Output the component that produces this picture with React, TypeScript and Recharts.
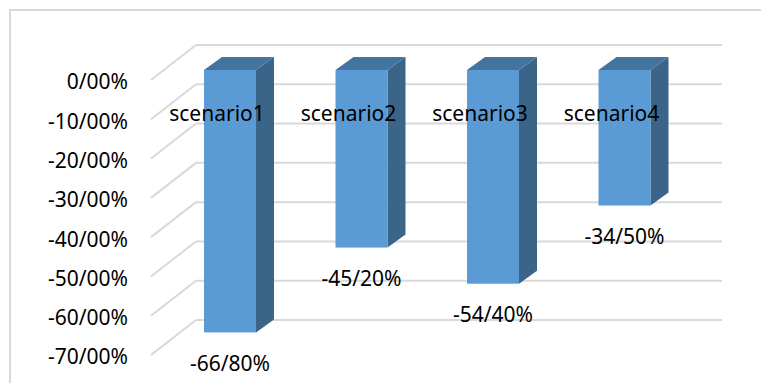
import React from "react";
import { BarChart, Bar, XAxis, YAxis, CartesianGrid, LabelList } from "recharts";

// Scenario names and their percentage change
const categories = ["scenario1", "scenario2", "scenario3", "scenario4"];
const changes = [-66.8, -45.2, -54.4, -34.5];
const yTicks = [-70, -60, -50, -40, -30, -20, -10, 0];

const data = categories.map((name, i) => ({ name, value: changes[i] }));

const FONT = "'Noto Sans', 'Open Sans', sans-serif";
const FONT_SIZE = 21;
const GRID = "#D9D9D9";

// Offsets of the back wall and the front floor edge relative to the bar plane
const BACK = { dx: 32, dy: -25 };
const FRONT = { dx: -13, dy: 10 };
// Bar depth
const DEPTH = { dx: 18, dy: -13 };

// Values like -66.8 are written as "-66/80%"
const fmt = (v: number) => `${v.toFixed(2).replace(".", "/")}%`;

const GridLine = (props: any) => {
  const { x1, x2, y1 } = props;
  return (
    <g key={props.key}>
      <line
        x1={x1 + FRONT.dx}
        y1={y1 + FRONT.dy}
        x2={x1 + BACK.dx}
        y2={y1 + BACK.dy}
        stroke={GRID}
        strokeWidth={2}
      />
      <line
        x1={x1 + BACK.dx}
        y1={y1 + BACK.dy}
        x2={x2 + BACK.dx}
        y2={y1 + BACK.dy}
        stroke={GRID}
        strokeWidth={2}
      />
    </g>
  );
};

const Bar3D = (props: any) => {
  const { x, y, width, height } = props;
  const top = Math.min(y, y + height);
  const bottom = Math.max(y, y + height);
  const right = x + width;
  return (
    <g>
      <polygon
        points={`${right},${top} ${right + DEPTH.dx},${top + DEPTH.dy} ${right + DEPTH.dx},${bottom + DEPTH.dy} ${right},${bottom}`}
        fill="#3A6488"
      />
      <polygon
        points={`${x},${top} ${x + DEPTH.dx},${top + DEPTH.dy} ${right + DEPTH.dx},${top + DEPTH.dy} ${right},${top}`}
        fill="#43739F"
      />
      <rect x={x} y={top} width={width} height={bottom - top} fill="#5B9BD5" />
    </g>
  );
};

const YTick = (props: any) => {
  const { x, y, payload } = props;
  return (
    <text
      x={x}
      y={y + FRONT.dy + 2}
      dy="0.355em"
      textAnchor="end"
      fontFamily={FONT}
      fontSize={FONT_SIZE}
      fill="#000"
    >
      {fmt(payload.value)}
    </text>
  );
};

const NameLabel = (props: any) => {
  const { x, y, width, height, value } = props;
  const top = Math.min(y, y + height);
  return (
    <text
      x={x + width / 2 + FRONT.dx}
      y={top + 44}
      dy="0.355em"
      textAnchor="middle"
      fontFamily={FONT}
      fontSize={FONT_SIZE}
      fill="#000"
    >
      {value}
    </text>
  );
};

const ValueLabel = (props: any) => {
  const { x, y, width, height, value } = props;
  const bottom = Math.max(y, y + height);
  return (
    <text
      x={x + width / 2}
      y={bottom + 31}
      dy="0.355em"
      textAnchor="middle"
      fontFamily={FONT}
      fontSize={FONT_SIZE}
      fill="#000"
    >
      {fmt(value)}
    </text>
  );
};

export default function App() {
  return (
    <div
      style={{
        position: "absolute",
        left: 0,
        top: 0,
        width: 761,
        height: 383,
        overflow: "hidden",
        background: "#fff",
      }}
    >
      <div
        style={{
          position: "absolute",
          left: 9,
          top: 9,
          width: 800,
          height: 420,
          border: `2px solid ${GRID}`,
          boxSizing: "border-box",
        }}
      />
      <div style={{ position: "absolute", left: 0, top: 0 }}>
        <BarChart
          width={761}
          height={383}
          data={data}
          margin={{ top: 70, right: 71, bottom: 38, left: 0 }}
        >
          <CartesianGrid vertical={false} horizontal={GridLine} />
          <XAxis dataKey="name" hide />
          <YAxis
            width={164}
            domain={[-70, 0]}
            ticks={yTicks}
            axisLine={false}
            tickLine={false}
            tickSize={0}
            tickMargin={36}
            tick={YTick}
            interval={0}
          />
          <Bar dataKey="value" barSize={52} shape={Bar3D} isAnimationActive={false}>
            <LabelList dataKey="name" content={NameLabel} />
            <LabelList dataKey="value" content={ValueLabel} />
          </Bar>
        </BarChart>
      </div>
    </div>
  );
}
